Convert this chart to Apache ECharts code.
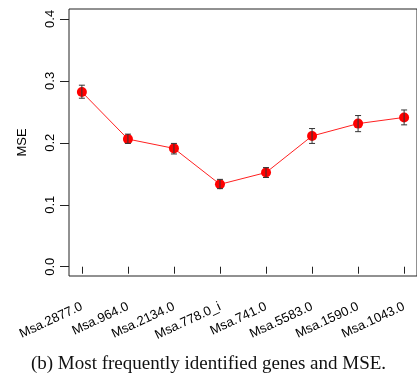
<!DOCTYPE html>
<html>
<head>
<meta charset="utf-8">
<script src="https://cdn.jsdelivr.net/npm/echarts@6/dist/echarts.min.js"></script>
<style>
html, body { margin: 0; padding: 0; background: #fff; }
#chart { width: 417px; height: 378px; }
</style>
</head>
<body>
<div id="chart"></div>
<script>
// 数据
var genes = ['Msa.2877.0', 'Msa.964.0', 'Msa.2134.0', 'Msa.778.0_i', 'Msa.741.0', 'Msa.5583.0', 'Msa.1590.0', 'Msa.1043.0'];
var mse = [0.282, 0.206, 0.191, 0.133, 0.152, 0.211, 0.231, 0.241];
var errLow = [0.272, 0.199, 0.182, 0.126, 0.144, 0.199, 0.218, 0.229];
var errHigh = [0.293, 0.214, 0.199, 0.141, 0.160, 0.223, 0.244, 0.253];
var yTicks = [0, 0.1, 0.2, 0.3, 0.4];
var xTicks = [1, 2, 3, 4, 5, 6, 7, 8];

var chart = echarts.init(document.getElementById('chart'));

var lineData = [];
var errData = [];
for (var i = 0; i < genes.length; i++) {
    lineData.push([i + 1, mse[i]]);
    errData.push([i + 1, errLow[i], errHigh[i]]);
}

var labelFont = {
    color: '#000',
    fontFamily: 'Liberation Sans, Arial, sans-serif',
    fontSize: 13
};

var option = {
    animation: false,
    grid: {
        left: 69,
        top: 9,
        bottom: 102,
        width: 351,
        show: true,
        borderColor: '#222',
        borderWidth: 1
    },
    xAxis: {
        type: 'value',
        min: 0.72,
        max: 8.28,
        splitLine: { show: false },
        axisLine: { show: false },
        axisTick: {
            show: true,
            customValues: xTicks,
            length: 7,
            lineStyle: { color: '#222' }
        },
        axisLabel: {
            customValues: xTicks,
            rotate: 25,
            margin: 30,
            formatter: function (v) {
                return genes[Math.round(v) - 1] || '';
            },
            color: labelFont.color,
            fontFamily: labelFont.fontFamily,
            fontSize: labelFont.fontSize
        }
    },
    yAxis: {
        type: 'value',
        min: -0.015,
        max: 0.416,
        name: 'MSE',
        nameLocation: 'middle',
        nameRotate: 90,
        nameGap: 40,
        nameTextStyle: labelFont,
        splitLine: { show: false },
        axisLine: { show: false },
        axisTick: {
            show: true,
            customValues: yTicks,
            length: 9,
            lineStyle: { color: '#222' }
        },
        axisLabel: {
            customValues: yTicks,
            rotate: 90,
            margin: 12,
            formatter: function (v) { return v.toFixed(1); },
            color: labelFont.color,
            fontFamily: labelFont.fontFamily,
            fontSize: labelFont.fontSize
        }
    },
    graphic: [{
        type: 'text',
        left: 'center',
        top: 355,
        style: {
            text: '(b) Most frequently identified genes and MSE.',
            fontFamily: 'Liberation Serif, Times New Roman, serif',
            fontSize: 19,
            fill: '#111'
        }
    }],
    series: [{
        type: 'line',
        data: lineData,
        symbol: 'circle',
        symbolSize: 10,
        itemStyle: { color: '#ff0000' },
        lineStyle: { color: '#ff2020', width: 1 },
        z: 2
    }, {
        type: 'custom',
        data: errData,
        z: 3,
        renderItem: function (params, api) {
            var x = api.value(0);
            var lo = api.coord([x, api.value(1)]);
            var hi = api.coord([x, api.value(2)]);
            var cap = 3;
            var style = { stroke: '#333', lineWidth: 1 };
            return {
                type: 'group',
                children: [
                    { type: 'line', shape: { x1: lo[0], y1: lo[1], x2: hi[0], y2: hi[1] }, style: style },
                    { type: 'line', shape: { x1: lo[0] - cap, y1: lo[1], x2: lo[0] + cap, y2: lo[1] }, style: style },
                    { type: 'line', shape: { x1: hi[0] - cap, y1: hi[1], x2: hi[0] + cap, y2: hi[1] }, style: style }
                ]
            };
        }
    }]
};

chart.setOption(option);
</script>
</body>
</html>
